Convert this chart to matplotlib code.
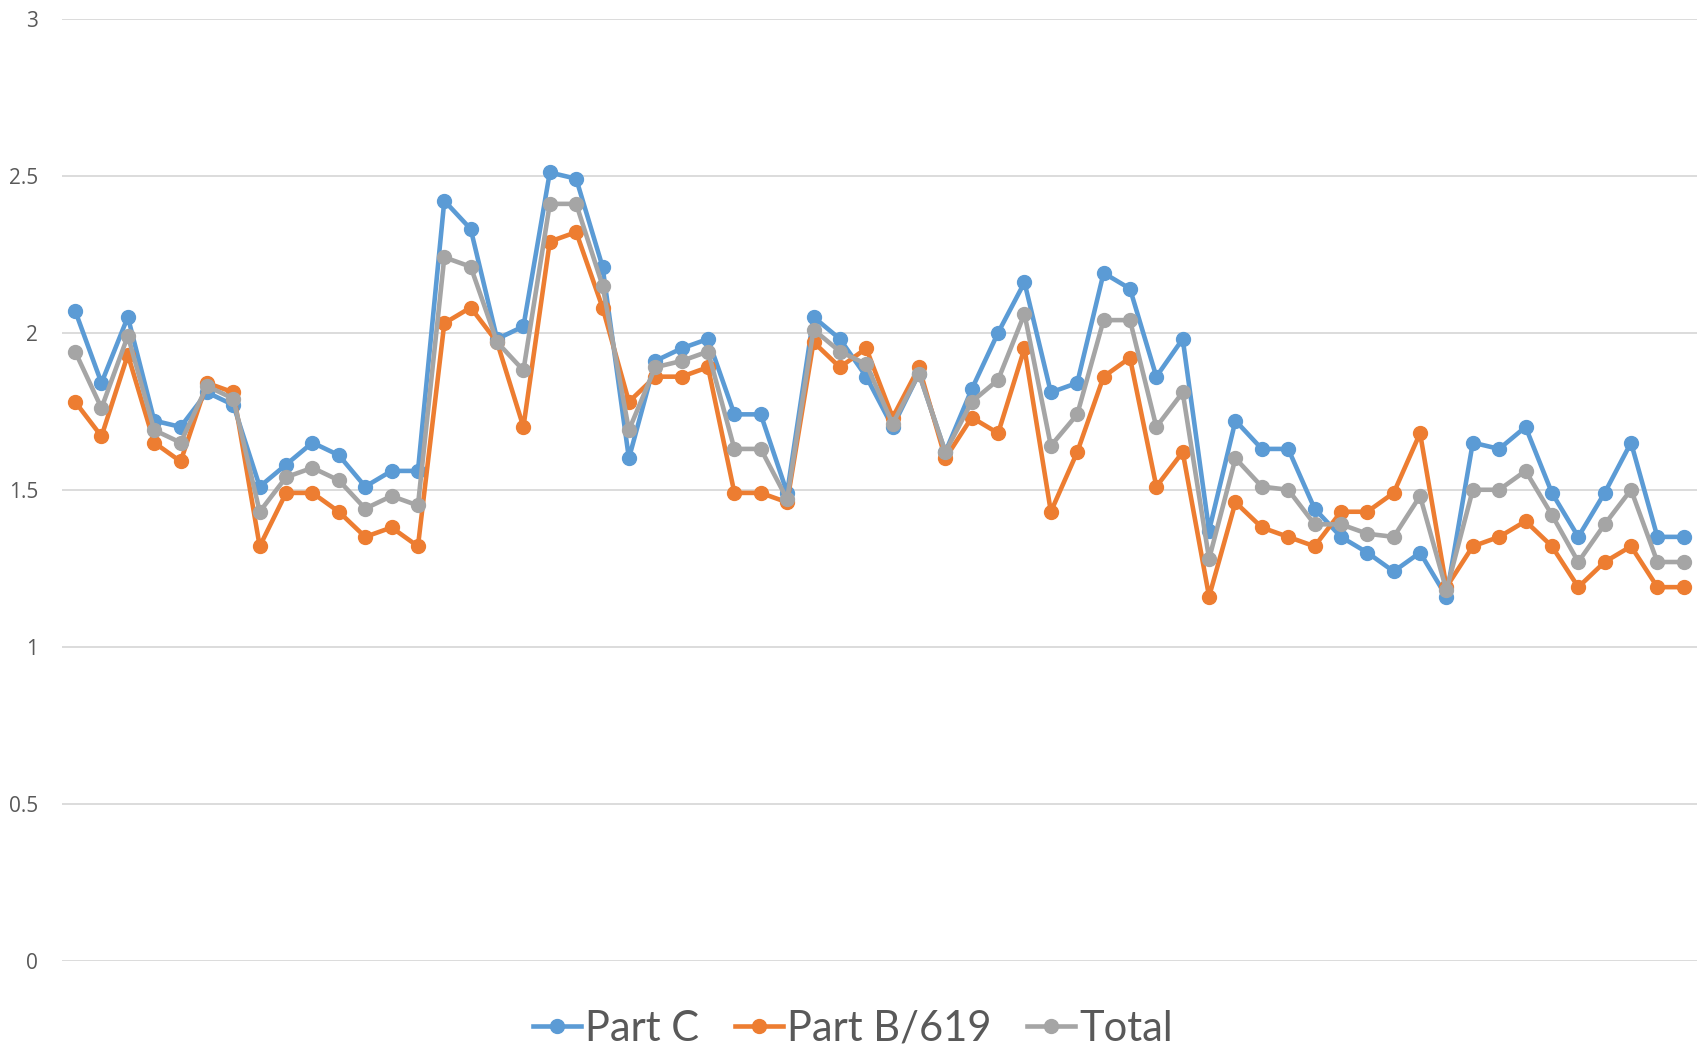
import matplotlib
matplotlib.use("Agg")
import matplotlib.pyplot as plt
import numpy as np

# values, one per category (62 categories)
part_c = [2.07, 1.84, 2.05, 1.72, 1.70, 1.81, 1.77, 1.51, 1.58, 1.65,
          1.61, 1.51, 1.56, 1.56, 2.42, 2.33, 1.98, 2.02, 2.51, 2.49,
          2.21, 1.60, 1.91, 1.95, 1.98, 1.74, 1.74, 1.49, 2.05, 1.98,
          1.86, 1.70, 1.87, 1.62, 1.82, 2.00, 2.16, 1.81, 1.84, 2.19,
          2.14, 1.86, 1.98, 1.37, 1.72, 1.63, 1.63, 1.44, 1.35, 1.30,
          1.24, 1.30, 1.16, 1.65, 1.63, 1.70, 1.49, 1.35, 1.49, 1.65,
          1.35, 1.35]
part_b = [1.78, 1.67, 1.93, 1.65, 1.59, 1.84, 1.81, 1.32, 1.49, 1.49,
          1.43, 1.35, 1.38, 1.32, 2.03, 2.08, 1.97, 1.70, 2.29, 2.32,
          2.08, 1.78, 1.86, 1.86, 1.89, 1.49, 1.49, 1.46, 1.97, 1.89,
          1.95, 1.73, 1.89, 1.60, 1.73, 1.68, 1.95, 1.43, 1.62, 1.86,
          1.92, 1.51, 1.62, 1.16, 1.46, 1.38, 1.35, 1.32, 1.43, 1.43,
          1.49, 1.68, 1.19, 1.32, 1.35, 1.40, 1.32, 1.19, 1.27, 1.32,
          1.19, 1.19]
total = [1.94, 1.76, 1.99, 1.69, 1.65, 1.83, 1.79, 1.43, 1.54, 1.57,
         1.53, 1.44, 1.48, 1.45, 2.24, 2.21, 1.97, 1.88, 2.41, 2.41,
         2.15, 1.69, 1.89, 1.91, 1.94, 1.63, 1.63, 1.47, 2.01, 1.94,
         1.90, 1.71, 1.87, 1.62, 1.78, 1.85, 2.06, 1.64, 1.74, 2.04,
         2.04, 1.70, 1.81, 1.28, 1.60, 1.51, 1.50, 1.39, 1.39, 1.36,
         1.35, 1.48, 1.18, 1.50, 1.50, 1.56, 1.42, 1.27, 1.39, 1.50,
         1.27, 1.27]
series_names = ["Part C", "Part B/619", "Total"]
colors = ["#5B9BD5", "#ED7D31", "#A5A5A5"]
yticks = [0, 0.5, 1, 1.5, 2, 2.5, 3]

fig = plt.figure(figsize=(17.06, 10.52), dpi=100)
ax = fig.add_axes([0.0363, 0.0865, 0.9584, 0.8959])

x = np.arange(len(part_c))
for vals, name, col in zip([part_c, part_b, total], series_names, colors):
    ax.plot(x, vals, color=col, lw=3.3, marker="o", ms=10,
            solid_joinstyle="round", label=name, zorder=3)

ax.set_xlim(-0.5, len(part_c) - 0.5)
ax.set_ylim(0, 3)
ax.set_yticks(yticks)
ax.set_yticklabels([("%g" % t) for t in yticks], color="#595959",
                   fontsize=15, family="Open Sans")
ax.set_xticks([])
ax.tick_params(axis="y", length=0, pad=17)
ax.grid(axis="y", color="#D9D9D9", lw=1.3, zorder=0)
for s in ax.spines.values():
    s.set_visible(False)

leg = fig.legend(loc="center", bbox_to_anchor=(0.5, 0.022), ncol=3,
                 frameon=False, prop={"family": "Lato", "size": 30},
                 handlelength=1.15, handletextpad=0.1, columnspacing=0.85)
for t in leg.get_texts():
    t.set_color("#595959")

fig.savefig("out.png", dpi=100)
